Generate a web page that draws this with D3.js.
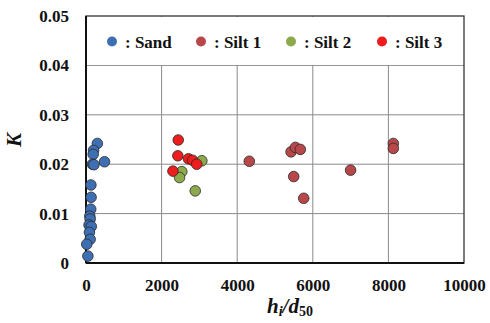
<!DOCTYPE html>
<html>
<head>
<meta charset="utf-8">
<script src="https://cdn.jsdelivr.net/npm/d3@7"></script>
<style>
  body { margin: 0; background: #fff; }
  svg text { font-family: "Liberation Serif", "Times New Roman", serif; font-weight: bold; fill: #111; }
</style>
</head>
<body>
<div id="chart"></div>
<script>
// values: [h_i/d50, K]
const sand = [
  [300, 0.0242], [200, 0.0228], [190, 0.0220], [170, 0.0200], [210, 0.0199],
  [490, 0.0205], [130, 0.0158], [135, 0.0133], [125, 0.0109], [100, 0.0095],
  [110, 0.0089], [80, 0.0077], [140, 0.0074], [90, 0.0062], [110, 0.0048],
  [20, 0.0038], [50, 0.0014]
];
const silt1 = [
  [4320, 0.0206], [5425, 0.0225], [5540, 0.0234], [5670, 0.0230], [5495, 0.0175],
  [5760, 0.0131], [7000, 0.0188], [8130, 0.0242], [8130, 0.0232]
];
const silt2 = [
  [3065, 0.0207], [2535, 0.0185], [2475, 0.0173], [2890, 0.0146]
];
const silt3 = [
  [2440, 0.0249], [2430, 0.0217], [2710, 0.0211], [2820, 0.0208], [2930, 0.0200],
  [2300, 0.0186]
];
const seriesNames = [": Sand", ": Silt 1", ": Silt 2", ": Silt 3"];
const seriesColors = ["#3f6fb3", "#b8474a", "#8caa4c", "#ee1c1c"];
const xTicks = [0, 2000, 4000, 6000, 8000, 10000];
const yTicks = [0, 0.01, 0.02, 0.03, 0.04, 0.05];

const W = 490, H = 323;
const svg = d3.select("#chart").append("svg").attr("width", W).attr("height", H);

const x = d3.scaleLinear().domain([0, 10000]).range([86, 464]);
const y = d3.scaleLinear().domain([0, 0.05]).range([263, 16]);

// gridlines
svg.append("g").selectAll("line.gx")
  .data(xTicks.slice(1, -1)).join("line")
  .attr("x1", d => x(d)).attr("x2", d => x(d))
  .attr("y1", y(0)).attr("y2", y(0.05))
  .attr("stroke", "#8a8a8a").attr("stroke-width", 1);
svg.append("g").selectAll("line.gy")
  .data(yTicks.slice(1, -1)).join("line")
  .attr("x1", x(0)).attr("x2", x(10000))
  .attr("y1", d => y(d)).attr("y2", d => y(d))
  .attr("stroke", "#8a8a8a").attr("stroke-width", 1);

// legend band hides the vertical gridlines above 0.04
svg.append("rect")
  .attr("x", x(0) + 1).attr("y", y(0.05) + 1)
  .attr("width", x(10000) - x(0) - 2).attr("height", y(0.04) - y(0.05) - 1.5)
  .attr("fill", "#fff");

// plot frame
svg.append("rect")
  .attr("x", x(0)).attr("y", y(0.05))
  .attr("width", x(10000) - x(0)).attr("height", y(0) - y(0.05))
  .attr("fill", "none").attr("stroke", "#333").attr("stroke-width", 1.3);
svg.append("line").attr("x1", x(0)).attr("x2", x(10000)).attr("y1", y(0)).attr("y2", y(0))
  .attr("stroke", "#111").attr("stroke-width", 2);
svg.append("line").attr("x1", x(0)).attr("x2", x(0)).attr("y1", y(0)).attr("y2", y(0.05))
  .attr("stroke", "#111").attr("stroke-width", 2);

// axes (labels only)
const xAxis = svg.append("g").attr("transform", `translate(0,${y(0)})`)
  .call(d3.axisBottom(x).tickValues(xTicks).tickSize(0).tickPadding(16).tickFormat(d3.format("d")));
const yAxis = svg.append("g").attr("transform", `translate(${x(0)},0)`)
  .call(d3.axisLeft(y).tickValues(yTicks).tickSize(0).tickPadding(17)
    .tickFormat(d => d === 0 ? "0" : d3.format(".2f")(d)));
[xAxis, yAxis].forEach(a => {
  a.select(".domain").remove();
  a.selectAll("text").attr("font-size", 17)
    .attr("font-family", "'Liberation Serif', serif").attr("font-weight", "bold").attr("fill", "#111");
});

// data points
const all = [sand, silt1, silt2, silt3];
all.forEach((s, i) => {
  svg.append("g").selectAll("circle").data(s).join("circle")
    .attr("cx", d => x(d[0])).attr("cy", d => y(d[1]))
    .attr("r", 5.3)
    .attr("fill", seriesColors[i])
    .attr("stroke", "#2a2a2a").attr("stroke-width", 0.8);
});

// legend
const legX = [112, 201, 291, 382];
const leg = svg.append("g");
seriesNames.forEach((n, i) => {
  leg.append("circle").attr("cx", legX[i]).attr("cy", 41.5).attr("r", 5)
    .attr("fill", seriesColors[i]);
  leg.append("text").attr("x", legX[i] + 13).attr("y", 47.5)
    .attr("font-size", 17).text(n);
});

// axis titles
svg.append("text")
  .attr("transform", "translate(21,140) rotate(-90)")
  .attr("text-anchor", "middle").attr("font-size", 21).attr("font-style", "italic")
  .text("K");
const xt = svg.append("text")
  .attr("x", 290).attr("y", 313).attr("text-anchor", "middle")
  .attr("font-size", 21).attr("font-style", "italic");
xt.append("tspan").text("h");
xt.append("tspan").attr("font-size", 14).attr("dy", 3).text("i");
xt.append("tspan").attr("dy", -3).text("/d");
xt.append("tspan").attr("font-size", 14).attr("font-style", "normal").attr("dy", 3).text("50");
</script>
</body>
</html>
